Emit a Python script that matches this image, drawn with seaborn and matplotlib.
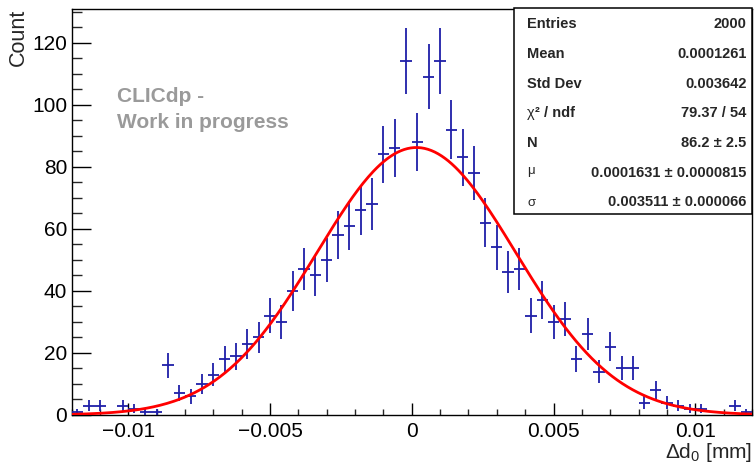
import numpy as np
import pandas as pd
import seaborn as sns
import matplotlib
matplotlib.use("Agg")
from matplotlib import pyplot as plt
from matplotlib.ticker import MultipleLocator, FixedLocator, FixedFormatter
from matplotlib.patches import Rectangle

# histogram: 60 bins between -0.012 and 0.012 mm
x_lo = -0.012
x_hi = 0.012
counts = [1, 3, 3, 0, 3, 2, 1, 1, 16, 7,
          6, 10, 13, 18, 19, 23, 25, 32, 30, 40,
          47, 45, 50, 58, 61, 66, 68, 84, 86, 114,
          88, 109, 114, 92, 83, 78, 62, 54, 46, 47,
          32, 37, 30, 31, 18, 26, 14, 22, 15, 15,
          4, 8, 4, 3, 2, 2, 0, 0, 3, 1]

# gaussian fit (values from the stats box)
fit_N = 86.2
fit_mu = 0.0001631
fit_sigma = 0.003511

stat_names = ["Entries", "Mean", "Std Dev", "χ", "N", "μ", "σ"]
stat_values = ["2000", "0.0001261", "0.003642", "79.37 / 54",
               "86.2 ± 2.5", "0.0001631 ± 0.0000815", "0.003511 ± 0.000066"]

x_ticks = [-0.01, -0.005, 0, 0.005, 0.01]
x_tick_labels = ["\u22120.01", "\u22120.005", "0", "0.005", "0.01"]

W, H = 754, 466

sns.set_theme(style="ticks")
plt.rcParams['font.family'] = ['Liberation Sans', 'DejaVu Sans']
plt.rcParams['mathtext.fontset'] = 'custom'
plt.rcParams['mathtext.rm'] = 'Liberation Sans'
plt.rcParams['mathtext.it'] = 'Liberation Sans'

fig = plt.figure(figsize=(W / 100, H / 100), dpi=100)
fig.patch.set_facecolor("white")
ax = fig.add_axes([71.5 / W, 1 - 415 / H, (752 - 71.5) / W, (415 - 8.5) / H])
ax.set_facecolor("white")

nbins = len(counts)
width = (x_hi - x_lo) / nbins
centers = x_lo + width * (np.arange(nbins) + 0.5)
df = pd.DataFrame({"x": centers, "n": counts})
df = df[df["n"] > 0]

hist_col = "#1f1fa8"
ax.errorbar(df["x"], df["n"], xerr=width / 2, yerr=np.sqrt(df["n"]),
            fmt="none", ecolor=hist_col, elinewidth=1.3, capsize=0, zorder=3)

xf = np.linspace(x_lo, x_hi, 400)
fit_df = pd.DataFrame({"x": xf,
                       "y": fit_N * np.exp(-0.5 * ((xf - fit_mu) / fit_sigma) ** 2)})
sns.lineplot(data=fit_df, x="x", y="y", color="#ff0000", linewidth=2, ax=ax, zorder=4)

ax.set_xlim(x_lo, x_hi)
ax.set_ylim(0, 131)

# ROOT-like ticks: inside, only on the bottom and left axes
ax.xaxis.set_major_locator(FixedLocator(x_ticks))
ax.xaxis.set_major_formatter(FixedFormatter(x_tick_labels))
ax.xaxis.set_minor_locator(MultipleLocator(0.001))
ax.yaxis.set_major_locator(MultipleLocator(20))
ax.yaxis.set_minor_locator(MultipleLocator(5))
ax.tick_params(axis="x", which="major", direction="in", length=8.8, width=1, pad=5,
               labelsize=15, colors="black")
ax.tick_params(axis="x", which="minor", direction="in", length=4.6, width=1)
ax.tick_params(axis="y", which="major", direction="in", length=14, width=1, pad=3,
               labelsize=15, colors="black")
ax.tick_params(axis="y", which="minor", direction="in", length=7.2, width=1)
for s in ax.spines.values():
    s.set_color("black")
    s.set_linewidth(1)

ax.set_xlabel("Δd$_0$ [mm]", fontsize=15, loc="right")
ax.xaxis.set_label_coords(1.0, -0.063)
ax.set_ylabel("Count", fontsize=15.5, loc="top")
ax.yaxis.set_label_coords(-0.062, 1.0)

fig.text(117 / W, 1 - 101.7 / H, "CLICdp -", color="#9a9a9a", weight="bold",
         fontsize=15, va="baseline", ha="left")
fig.text(117 / W, 1 - 128.3 / H, "Work in progress", color="#9a9a9a", weight="bold",
         fontsize=15, va="baseline", ha="left")

# stats box
box = Rectangle((514 / W, 1 - 214 / H), (752 - 514) / W, (214 - 8.5) / H,
                transform=fig.transFigure, facecolor="white", edgecolor="black",
                linewidth=1.1, zorder=10)
fig.patches.append(box)

renderer = fig.canvas.get_renderer()
fs = 10.5
for i, (name, val) in enumerate(zip(stat_names, stat_values)):
    yb = 1 - (28.3 + 29.7 * i) / H
    if name in ("μ", "σ"):
        dy = 3 / H if name == "μ" else 0
        fig.text(527 / W, yb + dy, name, fontsize=fs - 1, va="baseline", ha="left", zorder=11)
    elif name == "χ":
        t = fig.text(527 / W, yb, name, fontsize=fs, va="baseline", ha="left", zorder=11)
        bb = t.get_window_extent(renderer)
        fig.text(bb.x1 / W, yb, "² / ndf", fontsize=fs, weight="bold",
                 va="baseline", ha="left", zorder=11)
    else:
        fig.text(527 / W, yb, name, fontsize=fs, weight="bold",
                 va="baseline", ha="left", zorder=11)
    fig.text(746.5 / W, yb, val, fontsize=fs, weight="bold",
             va="baseline", ha="right", zorder=11)

fig.savefig("out.png", dpi=100, facecolor="white")
